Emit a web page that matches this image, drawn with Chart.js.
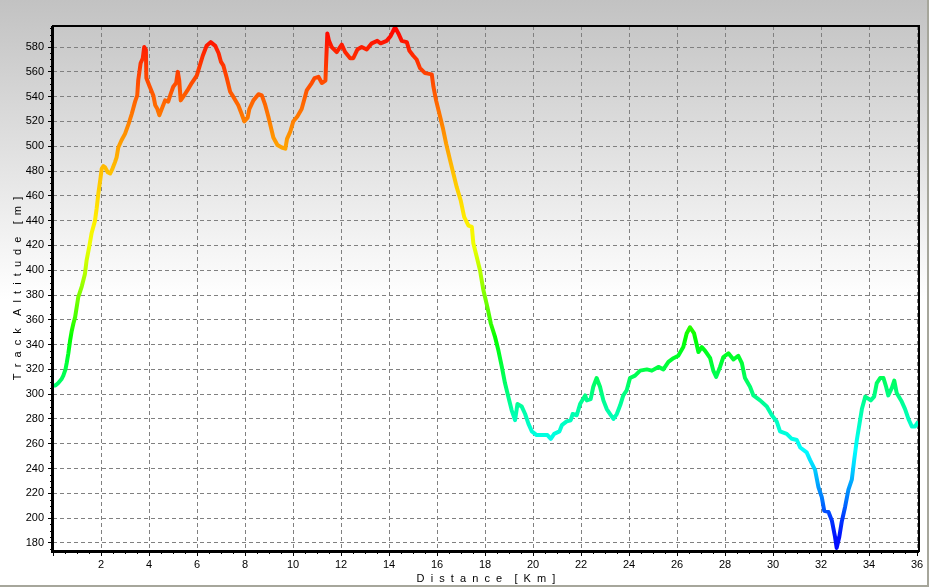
<!DOCTYPE html>
<html><head><meta charset="utf-8">
<script src="https://cdn.jsdelivr.net/npm/chart.js@4"></script>
<style>
html,body{margin:0;padding:0;}
body{width:929px;height:587px;overflow:hidden;position:relative;background:linear-gradient(to bottom,#c2c2c2 0px,#ffffff 300px,#ffffff 587px);}
#c{position:absolute;left:0;top:0;}
#edgeR{position:absolute;left:927px;top:0;width:2px;height:587px;background:#a6a69b;}
#edgeB{position:absolute;left:0;top:585px;width:929px;height:2px;background:#a6a69b;}
</style></head>
<body>
<canvas id="c" width="929" height="587"></canvas><div id="edgeR"></div><div id="edgeB"></div>
<script>
const distanceKm = [0.00,0.10,0.22,0.35,0.43,0.52,0.57,0.64,0.71,0.78,0.85,0.92,1.05,1.20,1.33,1.40,1.51,1.61,1.75,1.82,1.89,1.97,2.03,2.10,2.17,2.28,2.38,2.48,2.58,2.65,2.72,2.86,3.00,3.15,3.28,3.42,3.51,3.55,3.65,3.74,3.80,3.87,3.89,4.01,4.18,4.26,4.35,4.43,4.53,4.67,4.80,4.90,5.01,5.13,5.20,5.26,5.32,5.43,5.60,5.78,5.99,6.10,6.24,6.40,6.57,6.76,6.90,7.00,7.10,7.24,7.38,7.51,7.72,7.86,7.97,8.11,8.18,8.35,8.56,8.70,8.83,8.97,9.07,9.18,9.35,9.53,9.68,9.75,9.89,10.01,10.18,10.36,10.50,10.57,10.78,10.90,11.06,11.20,11.35,11.38,11.43,11.50,11.61,11.82,12.03,12.17,12.38,12.51,12.68,12.86,13.07,13.28,13.51,13.65,13.90,14.07,14.25,14.39,14.53,14.74,14.85,15.01,15.15,15.29,15.50,15.78,15.85,15.96,16.10,16.24,16.38,16.54,16.68,16.82,16.99,17.13,17.31,17.45,17.51,17.65,17.79,17.93,18.10,18.24,18.42,18.56,18.70,18.83,18.97,19.11,19.25,19.35,19.53,19.67,19.81,19.95,20.15,20.43,20.60,20.74,20.88,21.10,21.20,21.40,21.57,21.65,21.82,21.96,22.17,22.24,22.40,22.51,22.65,22.79,22.93,23.07,23.21,23.35,23.49,23.63,23.76,23.90,24.04,24.25,24.46,24.74,24.95,25.22,25.43,25.64,25.85,26.05,26.26,26.40,26.54,26.71,26.89,27.03,27.17,27.38,27.51,27.63,27.79,27.93,28.14,28.35,28.55,28.70,28.83,29.04,29.18,29.46,29.74,29.95,30.15,30.29,30.57,30.78,30.99,31.13,31.40,31.54,31.75,31.89,32.03,32.13,32.31,32.45,32.58,32.65,32.76,32.86,33.00,33.14,33.28,33.38,33.49,33.60,33.70,33.84,34.07,34.21,34.32,34.46,34.60,34.71,34.80,34.95,35.05,35.15,35.36,35.50,35.64,35.78,35.92,36.05];
const altitudeM = [307,307,309,312,315,320,325,333,343,351,357,362,378,387,397,408,419,430,440,450,462,473,482,484,483,479,478,482,487,491,499,505,510,518,526,536,541,553,567,571,580,578,555,549,541,533,530,525,530,537,536,542,548,551,560,553,537,540,545,551,557,564,573,581,584,581,575,568,565,555,544,540,533,526,520,523,530,537,542,541,534,524,516,507,501,499,498,506,512,520,524,530,540,545,551,555,556,551,553,568,591,585,580,576,582,576,571,571,578,580,578,583,585,583,585,589,596,591,585,584,577,573,570,563,559,558,548,537,526,515,502,489,478,467,456,443,436,435,422,411,400,384,370,357,346,335,322,309,298,287,279,292,290,284,276,270,267,267,267,264,268,270,275,278,279,284,283,292,299,295,296,306,313,306,295,288,284,280,284,291,299,303,313,315,319,320,319,322,320,326,329,331,338,349,354,349,334,338,335,329,319,314,322,330,333,328,331,325,313,306,299,295,290,283,278,270,268,264,263,257,253,247,239,225,217,206,205,198,185,176,185,197,209,223,231,247,263,276,288,298,295,298,309,313,313,306,299,305,311,301,294,288,280,274,274,278];
const xRange = [0, 36.08];
const yRange = [173.5, 597];
const xTickStep = 2;
const yTickStep = 20;
const xTitle = 'D  i  s  t  a  n  c  e    [  K  m  ]';
const yTitle = 'T  r  a  c  k    A  l  t  i  t  u  d  e    [  m  ]';

function altitudeGradient(context) {
  const chart = context.chart;
  const {ctx, chartArea, scales} = chart;
  if (!chartArea || !scales.y) return '#ff8000';
  const ramp = [[175,238],[185,236],[200,227],[215,212],[230,199],[245,187],[255,180],[265,174],[280,164],[295,154],[310,143],[325,133],[345,120],[360,105],[380,90],[400,76],[420,64],[440,56],[480,45],[500,38],[520,30],[540,22],[560,15],[580,7],[597,0]];
  const y0 = scales.y.getPixelForValue(yRange[0]);
  const y1 = scales.y.getPixelForValue(yRange[1]);
  const g = ctx.createLinearGradient(0, y0, 0, y1);
  ramp.forEach(([v, h]) => {
    const f = Math.min(1, Math.max(0, (v - yRange[0]) / (yRange[1] - yRange[0])));
    g.addColorStop(f, 'hsl(' + h + ',100%,50%)');
  });
  return g;
}

const framePlugin = {
  id: 'frame',
  afterDraw(chart) {
    const {ctx, chartArea: a, scales: {x, y}} = chart;
    ctx.save();
    ctx.strokeStyle = '#000';
    ctx.lineWidth = 1;
    ctx.beginPath();
    for (let v = 0.5; v <= x.max; v += 0.5) {
      if (Math.abs(v / 2 - Math.round(v / 2)) < 1e-6) continue;
      const px = Math.round(x.getPixelForValue(v)) + 0.5;
      ctx.moveTo(px, a.bottom); ctx.lineTo(px, a.bottom + 3);
    }
    for (let v = 175; v <= y.max; v += 5) {
      if (v % 20 === 0) continue;
      const py = Math.round(y.getPixelForValue(v)) + 0.5;
      ctx.moveTo(a.left - 3, py); ctx.lineTo(a.left, py);
    }
    ctx.stroke();
    ctx.lineWidth = 2;
    ctx.strokeRect(a.left, a.top, a.right - a.left, a.bottom - a.top);
    ctx.lineWidth = 3;
    ctx.beginPath();
    ctx.moveTo(a.left - 0.5, a.top); ctx.lineTo(a.left - 0.5, a.bottom + 0.5); ctx.lineTo(a.right, a.bottom + 0.5);
    ctx.stroke();
    ctx.restore();
  }
};

const tickFont = {family: 'Liberation Sans', size: 11};
new Chart(document.getElementById('c'), {
  type: 'line',
  data: {
    datasets: [{
      data: distanceKm.map((d, i) => ({x: d, y: altitudeM[i]})),
      borderColor: altitudeGradient,
      borderWidth: 4,
      pointRadius: 0,
      tension: 0,
      fill: false,
      borderJoinStyle: 'round'
    }]
  },
  options: {
    responsive: false,
    animation: false,
    devicePixelRatio: 1,
    layout: {padding: {left: 0, top: 26, right: 10, bottom: 0}},
    plugins: {legend: {display: false}, tooltip: {enabled: false}},
    scales: {
      x: {
        type: 'linear', min: xRange[0], max: xRange[1],
        afterFit(s) { s.height = 36; },
        ticks: {stepSize: xTickStep, includeBounds: false, autoSkip: false, maxRotation: 0, padding: 2, color: '#000', font: tickFont,
                callback: v => v === 0 ? '' : v},
        grid: {color: '#808080', lineWidth: 1, tickLength: 5, tickColor: '#000', tickBorderDash: []},
        border: {display: false, dash: [4, 3]},
        title: {display: true, text: xTitle, color: '#000', font: tickFont, padding: {top: 0, bottom: 1}}
      },
      y: {
        type: 'linear', min: yRange[0], max: yRange[1],
        afterFit(s) { s.width = 53; },
        ticks: {stepSize: yTickStep, includeBounds: false, autoSkip: false, padding: 4, color: '#000', font: tickFont},
        grid: {color: '#808080', lineWidth: 1, tickLength: 5, tickColor: '#000', tickBorderDash: []},
        border: {display: false, dash: [4, 3]},
        title: {display: true, text: yTitle, color: '#000', font: tickFont, padding: {top: 11, bottom: 0}}
      }
    }
  },
  plugins: [framePlugin]
});
</script>
</body></html>
